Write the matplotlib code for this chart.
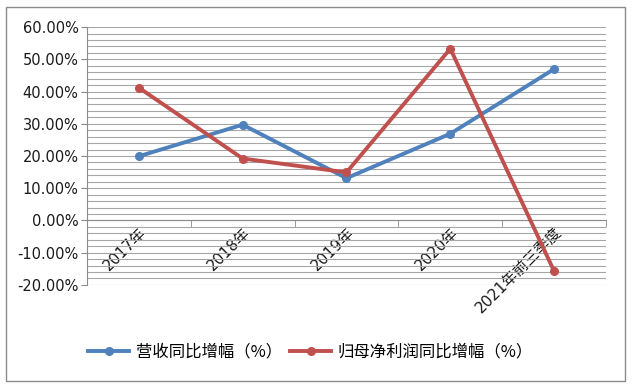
import matplotlib.pyplot as plt
import matplotlib.ticker as mtick
from matplotlib.lines import Line2D
from matplotlib.patches import Rectangle

plt.rcParams['font.family'] = ['DejaVu Sans', 'Noto Sans CJK SC']

categories = ['2017年', '2018年', '2019年', '2020年', '2021年前三季度']
revenue_growth = [19.9, 29.7, 13.1, 26.9, 47.0]
profit_growth = [41.2, 19.2, 14.9, 53.3, -15.8]
series_names = ['营收同比增幅（%）', '归母净利润同比增幅（%）']

blue = '#4F81BD'
red = '#C0504D'

fig = plt.figure(figsize=(6.34, 3.87), dpi=100)
ax = fig.add_axes([0.137, 0.264, 0.819, 0.666])

x = list(range(len(categories)))
ax.plot(x, revenue_growth, color=blue, lw=2.8, marker='o', ms=5.5, zorder=3)
ax.plot(x, profit_growth, color=red, lw=2.8, marker='o', ms=5.5, zorder=4)

ax.set_xlim(-0.5, len(categories) - 0.5)
ax.set_ylim(-20, 60)
ax.yaxis.set_major_locator(mtick.MultipleLocator(10))
ax.yaxis.set_minor_locator(mtick.MultipleLocator(2))
ax.yaxis.set_major_formatter(mtick.FuncFormatter(lambda v, p: '%.2f%%' % v))
ax.grid(True, which='both', axis='y', color='#a6a6a6', lw=0.8)
ax.set_axisbelow(True)

for s in ['top', 'right']:
    ax.spines[s].set_visible(False)
ax.spines['left'].set_color('#8c8c8c')
ax.spines['bottom'].set_position(('data', 0))
ax.spines['bottom'].set_color('#8c8c8c')

ax.tick_params(axis='y', which='major', length=4, color='#8c8c8c', labelsize=10.5, labelcolor='#1a1a1a', pad=2)
ax.tick_params(axis='y', which='minor', length=0)

ax.set_xticks(x)
ax.set_xticklabels(categories, rotation=45, ha='right', va='top', rotation_mode='anchor')
ax.set_xticks([i - 0.5 for i in range(len(categories) + 1)], minor=True)
ax.tick_params(axis='x', which='major', length=0, labelsize=11, labelcolor='#1a1a1a', pad=3)
ax.tick_params(axis='x', which='minor', length=5, color='#8c8c8c', direction='out')

handles = [Line2D([], [], color=blue, lw=2.8, marker='o', ms=5.5),
           Line2D([], [], color=red, lw=2.8, marker='o', ms=5.5)]
fig.legend(handles, series_names, loc='center', bbox_to_anchor=(0.49, 0.09), ncol=2,
           frameon=False, handlelength=2.5, columnspacing=0.5, handletextpad=0.4,
           prop={'family': ['Noto Sans CJK SC'], 'size': 11.8})

fig.patches.append(Rectangle((0.0095, 0.0155), 0.976, 0.966, transform=fig.transFigure,
                             fill=False, edgecolor='#8c8c8c', lw=1))

fig.savefig('out.png', dpi=100)
